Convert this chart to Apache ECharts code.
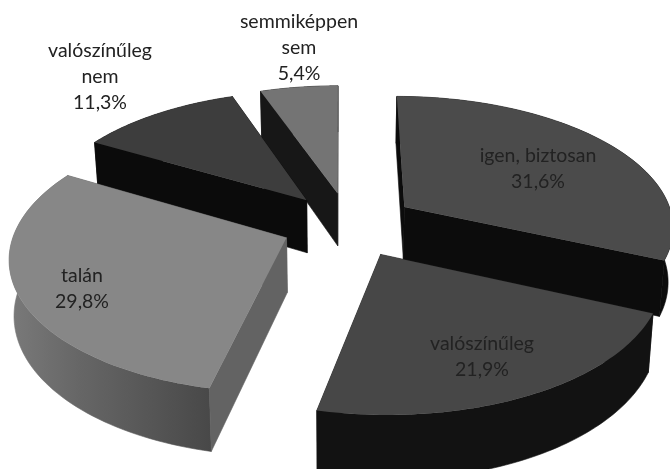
<!DOCTYPE html>
<html>
<head>
<meta charset="utf-8">
<style>
html, body { margin: 0; padding: 0; background: #fff; }
#main { width: 670px; height: 469px; filter: blur(0.6px); }
</style>
<script src="https://cdn.jsdelivr.net/npm/echarts@6/dist/echarts.min.js"></script>
</head>
<body>
<div id="main"></div>
<script>
var categories = ['igen, biztosan', 'valószínűleg', 'talán', 'valószínűleg\nnem', 'semmiképpen\nsem'];
var shares = [31.6, 21.9, 29.8, 11.3, 5.4];

// looks, one entry per slice
var topColors = ['#4b4b4b', '#474747', '#878787', '#3d3d3d', '#747474'];
var outerColors = ['#0c0c0c', '#121212', null, '#0b0b0b', '#161616'];
var innerColors = ['#0c0c0c', '#1a1a1a', '#636363', '#0b0b0b', '#171717'];
var paintRank = [2, 4, 3, 1, 0];
var labelSpots = [[538, 169], [482, 357], [82, 289], [100, 77], [299, 48]];

// perspective pie on a tilted plane
var EXPLODE = 0.25;
var RX = 270, RY = 130, PERSP = 0.135;
var CX = 340, CY = 224.5, SHIFT = 9;

function project(X, Y) {
    var s = 1 / (1 - PERSP * Y);
    return { x: CX + (RX * X + SHIFT) * s, y: CY + RY * Y * s, s: s };
}
function topPoint(X, Y) {
    var p = project(X, Y);
    return [p.x, p.y];
}
function bottomPoint(X, Y) {
    var p = project(X, Y);
    return [CX + (p.x - CX) * 0.985, p.y + 54 * p.s];
}

var total = shares.reduce(function (a, b) { return a + b; }, 0);
var startAngles = [];
shares.reduce(function (sum, v, i) {
    startAngles[i] = sum / total * Math.PI * 2;
    return sum + v;
}, 0);

function renderSlice(params, api) {
    var i = params.dataIndex;
    var a0 = startAngles[i];
    var a1 = a0 + api.value(0) / total * Math.PI * 2;
    var mid = (a0 + a1) / 2;
    var ox = EXPLODE * Math.sin(mid), oy = -EXPLODE * Math.cos(mid);

    var rim = [];
    var steps = 70;
    for (var k = 0; k <= steps; k++) {
        var a = a0 + (a1 - a0) * k / steps;
        rim.push([ox + Math.sin(a), oy - Math.cos(a)]);
    }
    var first = rim[0], last = rim[steps];

    function wall(a, b) {
        return [topPoint(a[0], a[1]), topPoint(b[0], b[1]), bottomPoint(b[0], b[1]), bottomPoint(a[0], a[1])];
    }
    var outerPts = rim.map(function (r) { return topPoint(r[0], r[1]); })
        .concat(rim.slice().reverse().map(function (r) { return bottomPoint(r[0], r[1]); }));
    var outerFill = outerColors[i] || {
        type: 'linear', x: 0, y: 0, x2: 1, y2: 0,
        colorStops: [
            { offset: 0, color: '#7a7a7a' },
            { offset: 0.35, color: '#666666' },
            { offset: 1, color: '#484848' }
        ]
    };
    var walls = [
        { pts: wall([ox, oy], first), y: (oy + first[1]) / 2, fill: innerColors[i] },
        { pts: wall([ox, oy], last), y: (oy + last[1]) / 2, fill: innerColors[i] },
        { pts: outerPts, y: oy - Math.cos(mid), fill: outerFill }
    ].sort(function (a, b) { return a.y - b.y; });

    var base = paintRank[i] * 10;
    var children = walls.map(function (w, j) {
        return {
            type: 'polygon', z2: base + j,
            shape: { points: w.pts },
            style: { fill: w.fill, stroke: w.fill, lineWidth: 0.6 }
        };
    });
    children.push({
        type: 'polygon', z2: base + 5,
        shape: { points: [topPoint(ox, oy)].concat(rim.map(function (r) { return topPoint(r[0], r[1]); })) },
        style: { fill: topColors[i] }
    });
    children.push({
        type: 'text', z2: 100,
        x: labelSpots[i][0], y: labelSpots[i][1],
        style: {
            text: categories[i] + '\n' + String(api.value(0)).replace('.', ',') + '%',
            fill: '#222',
            font: '19.5px Lato',
            lineHeight: 26,
            align: 'center',
            verticalAlign: 'middle'
        }
    });
    return { type: 'group', children: children };
}

var myChart = echarts.init(document.getElementById('main'));
var option = {
    animation: false,
    backgroundColor: '#fff',
    series: [{
        type: 'custom',
        coordinateSystem: 'none',
        silent: true,
        data: shares.map(function (v) { return [v]; }),
        renderItem: renderSlice
    }]
};
myChart.setOption(option);
</script>
</body>
</html>
